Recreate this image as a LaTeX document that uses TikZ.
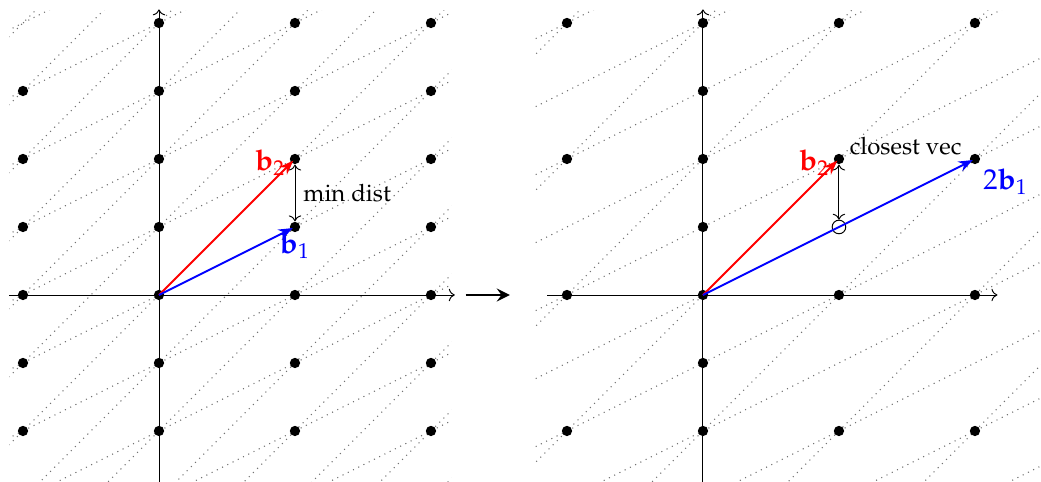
\documentclass[tikz,border=0pt]{standalone}
\usepackage[T1]{fontenc}
\usepackage{mathpazo}
\usetikzlibrary{arrows.meta}
\begin{document}
\begin{tikzpicture}[x=1cm,y=1cm,
  lat/.style={circle, fill=black, inner sep=0pt, minimum size=4.3pt},
  hollow/.style={circle, draw=black, line width=0.4pt, inner sep=0pt, minimum size=0.2cm},
  gridline/.style={black!55, dotted, line width=0.45pt},
  axis/.style={black, line width=0.4pt, ->},
  vec/.style={line width=0.8pt, -{Stealth[length=6pt,width=4.5pt]}, shorten >=1pt},
  gap/.style={black, line width=0.4pt, <->},
  veclabel/.style={font=\large},
  bigarrow/.style={black, line width=0.9pt, -{Stealth[length=5.5pt,width=5.5pt,inset=2pt]}}]
\useasboundingbox (-2.338,-2.75) rectangle (12.971,4.338);
% ---------- left panel ----------
\begin{scope}
  \clip (-2.2,-2.8) rectangle (4.3,4.19);
  \foreach \m in {-7,...,7} \draw[gridline] (-3,\m-1.5) -- (5,\m+2.5);
  \foreach \k in {-10,...,8} \draw[gridline] (-3,\k-3) -- (5,\k+5);
\end{scope}
\coordinate (LxS) at (-2.2,0);
\coordinate (LxE) at (4.35,0);
\coordinate (LyS) at (0,-2.8);
\coordinate (LyE) at (0,4.2);
\draw[axis] (LxS) -- (LxE);
\draw[axis] (LyS) -- (LyE);
\foreach \x/\y [count=\i] in {-2/-2,-2/-1,-2/0,-2/1,-2/2,-2/3,
    0/-2,0/-1,0/1,0/2,0/3,0/4,
    2/-2,2/-1,2/0,2/3,2/4,
    4/-2,4/-1,4/0,4/1,4/2,4/3,4/4}
  \node[lat] (l\i) at (\x,\y) {};
\node[lat] (O1) at (0,0) {};
\node[lat] (A21) at (2,1) {};
\node[lat] (A22) at (2,2) {};
\draw[vec, red] (O1.center) -- (A22.center);
\draw[vec, blue] (O1.center) -- (A21.center);
\node[veclabel, text=red, left, xshift=-0.5pt, yshift=-1.5pt] (lb2) at (A22.center) {$\mathbf{b}_2$};
\node[veclabel, text=blue, below, yshift=1pt] (lb1) at (A21.center) {$\mathbf{b}_1$};
\draw[gap] (A22) -- node[right] (md) {min dist} (A21);
% ---------- middle arrow ----------
\coordinate (M1) at (4.51,0);
\coordinate (M2) at (5.16,0);
\draw[bigarrow] (M1) -- (M2);
% ---------- right panel ----------
\begin{scope}[xshift=8cm]
  \begin{scope}
    \clip (-2.46,-2.8) rectangle (5.2,4.19);
    \foreach \m in {-8,...,8} \draw[gridline] (-3,\m-1.5) -- (6,\m+3);
    \foreach \k in {-10,-8,...,8} \draw[gridline] (-3,\k-3) -- (6,\k+6);
  \end{scope}
  \coordinate (RxS) at (-2.29,0);
  \coordinate (RxE) at (4.33,0);
  \coordinate (RyS) at (0,-2.8);
  \coordinate (RyE) at (0,4.2);
  \draw[axis] (RxS) -- (RxE);
  \draw[axis] (RyS) -- (RyE);
  \foreach \x/\y [count=\i] in {-2/-2,-2/0,-2/2,-2/4,
      0/-2,0/-1,0/1,0/2,0/3,0/4,
      2/-2,2/0,2/4,
      4/-2,4/0,4/4}
    \node[lat] (r\i) at (\x,\y) {};
  \node[lat] (O2) at (0,0) {};
  \node[lat] (B22) at (2,2) {};
  \node[lat] (B42) at (4,2) {};
  \node[hollow] (C21) at (2,1) {};
  \draw[vec, red] (O2.center) -- (B22.center);
  \draw[vec, blue] (O2.center) -- (B42.center);
  \node[veclabel, text=red, left, xshift=-0.5pt, yshift=-1.5pt] (rb2) at (B22.center) {$\mathbf{b}_2$};
  \node[veclabel, text=blue, below right, yshift=-0.5pt] (rb1) at (B42.center) {$2\mathbf{b}_1$};
  \node[above right, xshift=1pt, yshift=-2pt] (cv) at (B22.center) {closest vec};
  \draw[gap] (B22) -- (C21);
\end{scope}
\end{tikzpicture}
\end{document}
